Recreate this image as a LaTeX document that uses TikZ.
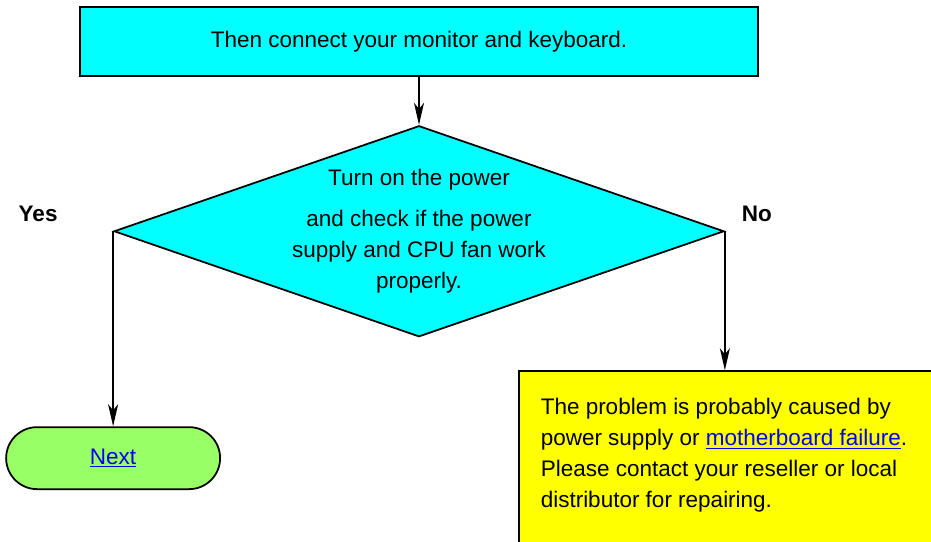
\documentclass[tikz,border=0pt]{standalone}
\usepackage{fontspec}
\setmainfont{Liberation Sans}
\usepackage{xcolor}
\usetikzlibrary{arrows.meta, positioning, shapes.geometric}

\definecolor{boxcyan}{RGB}{0,255,255}
\definecolor{nextgreen}{RGB}{153,255,102}
\definecolor{failyellow}{RGB}{255,255,0}
\definecolor{linkblue}{RGB}{0,0,238}

\begin{document}
\begin{tikzpicture}[
			every node/.style={font=\fontsize{12.8}{17.6}\selectfont},
			arrow/.style={-{Stealth[length=0.44cm, width=0.2cm, inset=0.12cm]}, line width=0.9pt},
			lbl/.style={font=\fontsize{12.8}{15}\selectfont\bfseries}
			]
			\useasboundingbox (0,0) rectangle (18.62,-10.82);
			\clip (0,0) rectangle (18.62,-10.82);
			
			% Caja de inicio
			\node[draw, line width=1pt, rectangle, fill=boxcyan, minimum width=13.56cm, minimum height=1.38cm] (connect) at (8.38,-0.83)
			{Then connect your monitor and keyboard.};
			
			% Decision
			\node[draw, line width=1pt, diamond, aspect=2.89, fill=boxcyan, minimum width=12.2cm, minimum height=4.22cm, inner sep=-3pt, align=center, below=0.96cm of connect] (power)
			{Turn on the power\\[6pt] and check if the power\\ supply and CPU fan work\\ properly.};
			
			\node[lbl] (yes) at ([xshift=-1.5cm, yshift=0.34cm]power.west) {Yes};
			\node[lbl] (no) at ([xshift=0.64cm, yshift=0.34cm]power.east) {No};
			
			% Salidas
			\node[draw, line width=1pt, rectangle, rounded corners=0.62cm, fill=nextgreen, minimum width=4.28cm, minimum height=1.24cm, below=3.9cm of power.west] (next)
			{\textcolor{linkblue}{\underline{Next}}};
			
			\node[draw, line width=1pt, rectangle, fill=failyellow, anchor=north west, inner xsep=0.44cm, inner ysep=0.54cm] (fail) at ([xshift=-4.14cm, yshift=-2.78cm]power.east)
			{\parbox[t][4.2cm][t]{7.8cm}{\raggedright
					The problem is probably caused by\\
					power supply or \textcolor{linkblue}{\underline{motherboard failure}}.\\
					Please contact your reseller or local\\
					distributor for repairing.}};
			
			% Flechas
			\draw[arrow] (connect.south) -- (power.north);
			\draw[arrow] (power.west) -- (next.north);
			\draw[arrow] (power.east) -- (power.east |- fail.north);
			
		\end{tikzpicture}
\end{document}
